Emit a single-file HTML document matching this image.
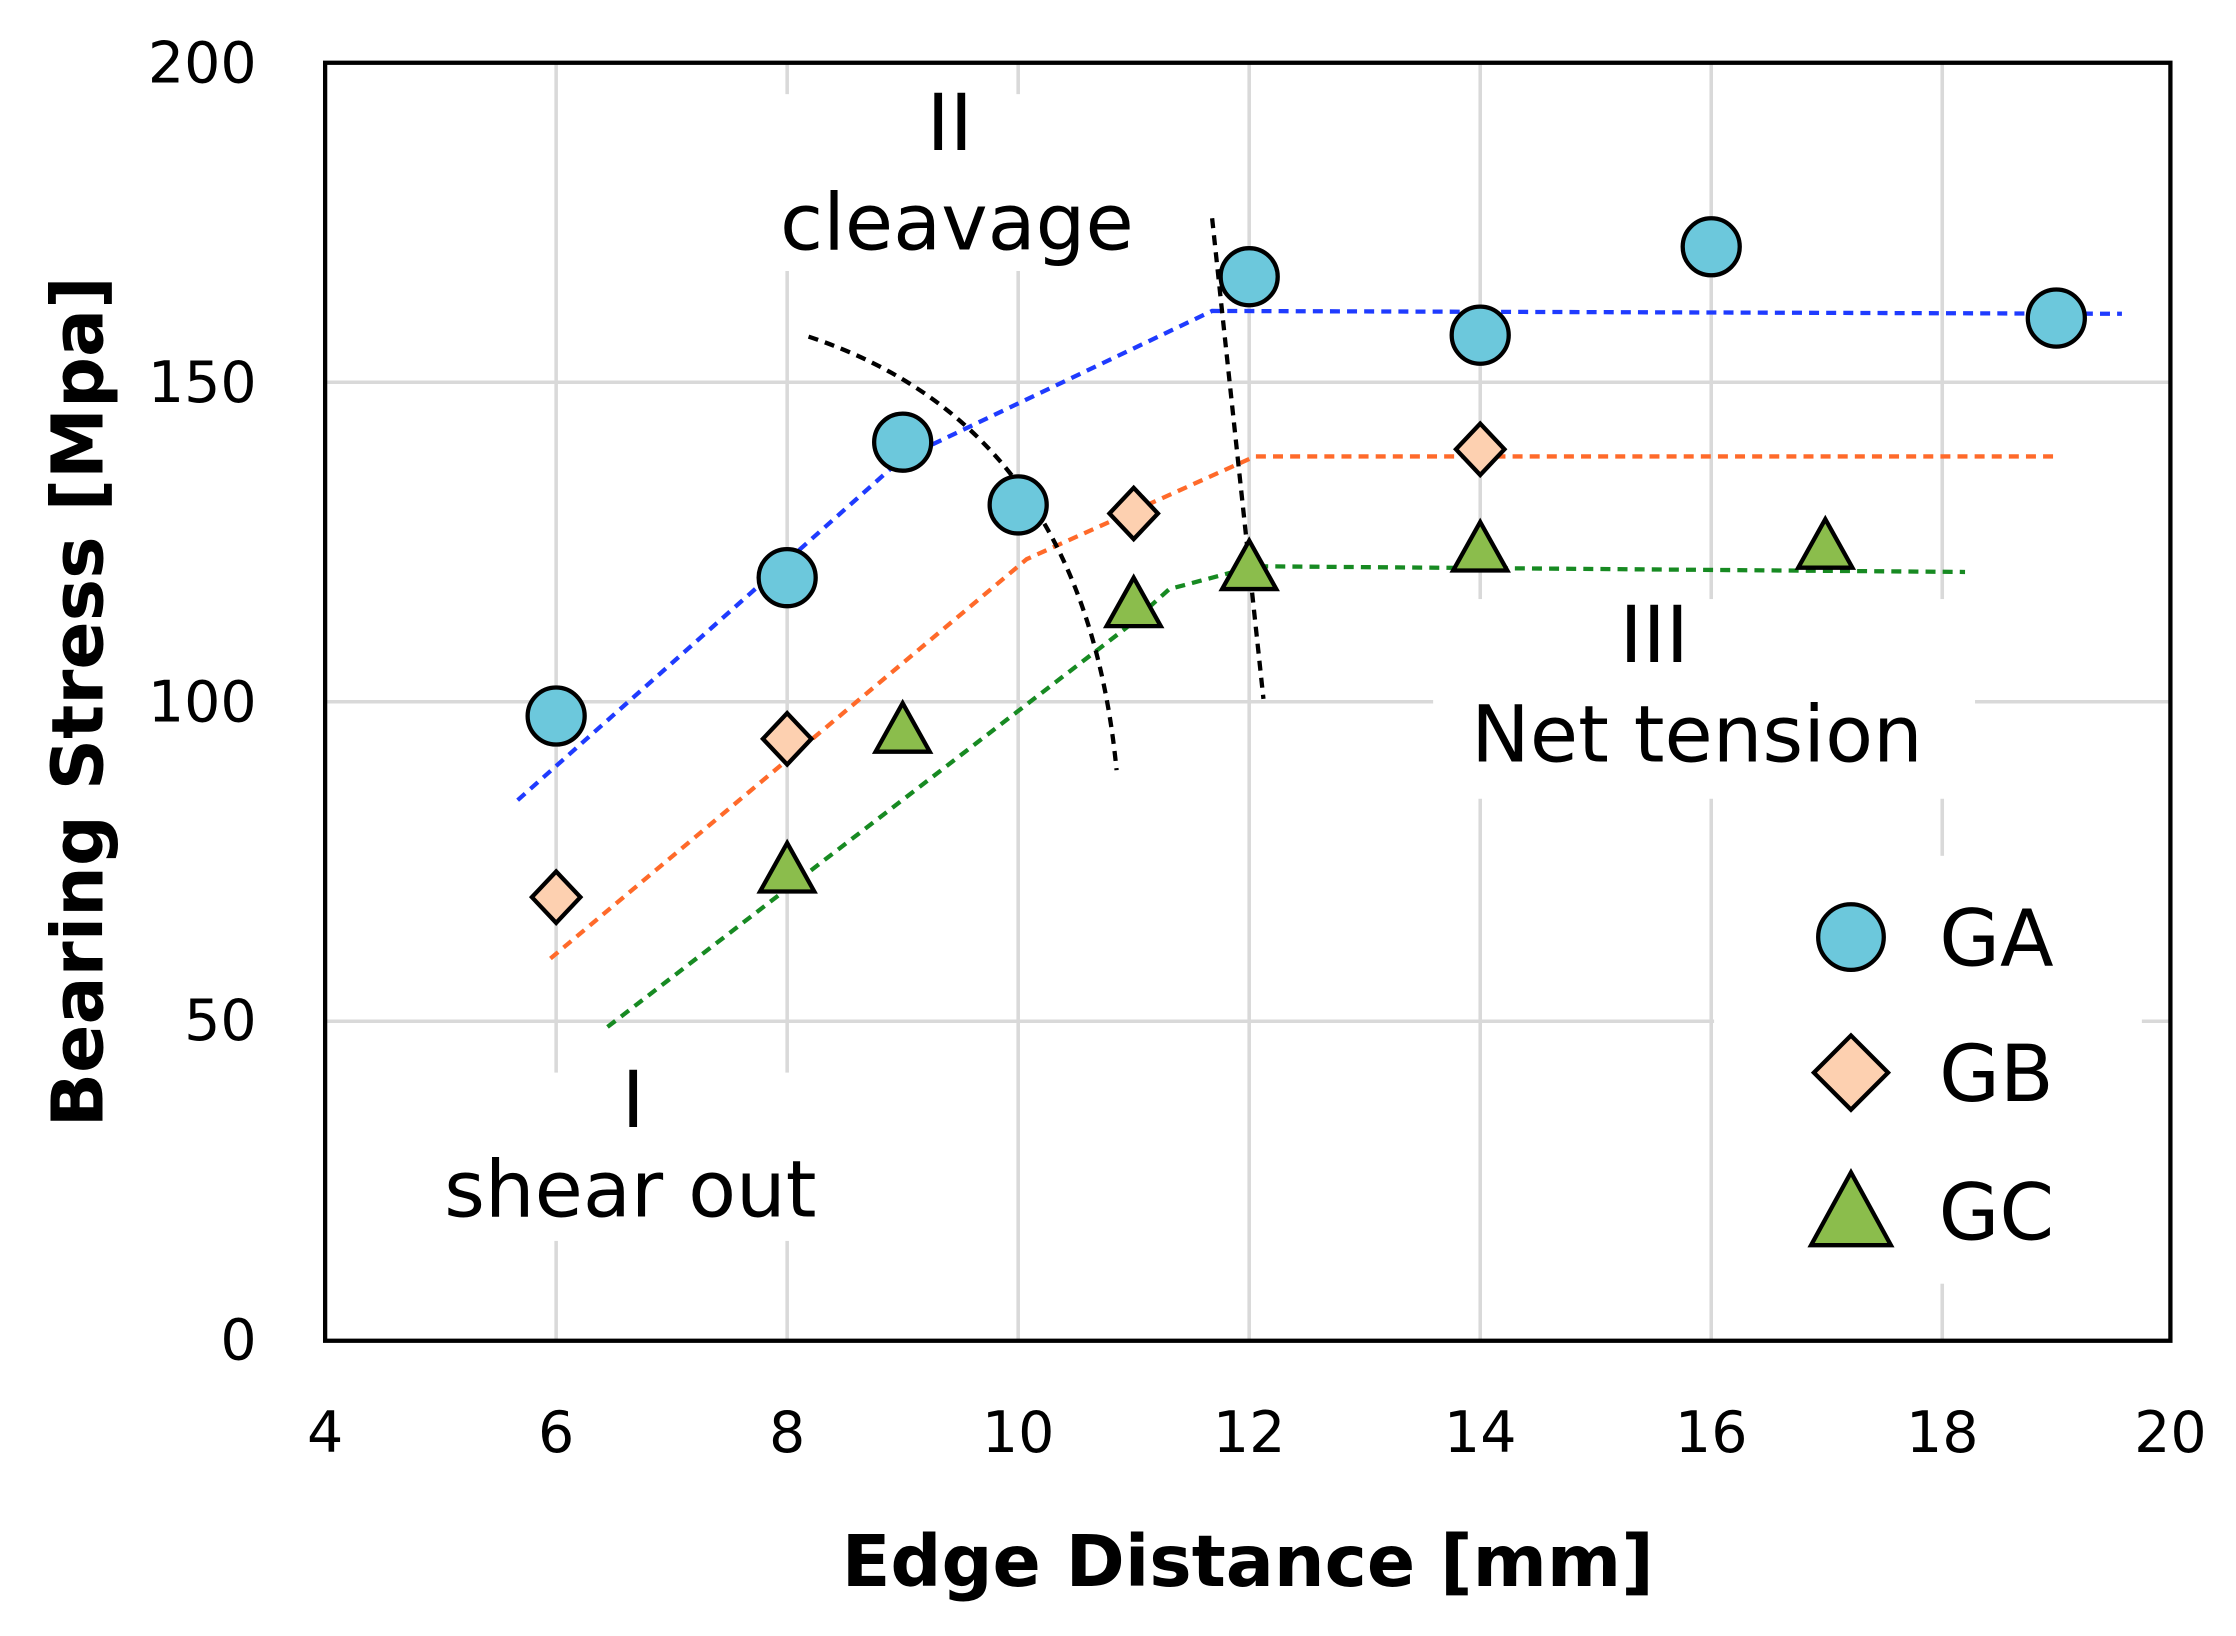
<!DOCTYPE html>
<html><head><meta charset="utf-8"><style>html,body{margin:0;padding:0;background:#fff}svg{display:block}</style></head>
<body>
<svg width="2236" height="1636" viewBox="0 0 1568 1147" preserveAspectRatio="none" xmlns="http://www.w3.org/2000/svg" font-family="'DejaVu Sans','Liberation Sans',sans-serif">
<rect width="1568" height="1147" fill="#fff"/>
<g stroke="#d9d9d9" stroke-width="2.5">
<line x1="390" y1="44" x2="390" y2="940"/><line x1="552" y1="44" x2="552" y2="940"/>
<line x1="714" y1="44" x2="714" y2="940"/><line x1="876" y1="44" x2="876" y2="940"/>
<line x1="1038" y1="44" x2="1038" y2="940"/><line x1="1200" y1="44" x2="1200" y2="940"/>
<line x1="1362" y1="44" x2="1362" y2="940"/>
<line x1="228" y1="268" x2="1522" y2="268"/><line x1="228" y1="492" x2="1522" y2="492"/>
<line x1="228" y1="716" x2="1522" y2="716"/>
</g>
<g fill="#fff">
<rect x="530" y="66" width="282" height="124"/>
<rect x="296" y="752" width="290" height="118"/>
<rect x="1005" y="420" width="380" height="140"/>
<rect x="1202" y="600" width="300" height="300"/>
</g>
<rect x="228" y="44" width="1294" height="896" fill="none" stroke="#000" stroke-width="3"/>
<g fill="none" stroke-width="3" stroke-dasharray="7,5">
<polyline stroke="#1f3bff" points="363,561 632,322 850,218 1488,220"/>
<polyline stroke="#ff6a2a" points="386,672 720,392 880,320 1440,320"/>
<polyline stroke="#178a22" points="426,720 790,440 820,413 880,397 1378,401"/>
<path stroke="#000" d="M567,236 Q760,300 783,540"/>
<line stroke="#000" x1="850" y1="153" x2="886" y2="490"/>
</g>
<g stroke="#000" stroke-width="3">
<g fill="#6cc8dc">
<circle cx="390" cy="502" r="20"/><circle cx="552" cy="405" r="20"/><circle cx="633" cy="310" r="20"/>
<circle cx="714" cy="354" r="20"/><circle cx="876" cy="194" r="20"/><circle cx="1038" cy="235" r="20"/>
<circle cx="1200" cy="173" r="20"/><circle cx="1442" cy="223" r="20"/>
<circle cx="1298" cy="657" r="23"/>
</g>
<g fill="#fdd0b0">
<polygon points="390,611 407,629 390,647 373,629"/><polygon points="552,500 569,518 552,536 535,518"/>
<polygon points="795,342 812,360 795,378 778,360"/><polygon points="1038,297 1055,315 1038,333 1021,315"/>
<polygon points="1298,726 1324,752 1298,778 1272,752"/>
</g>
<g fill="#8bbd4c">
<polygon points="552,591 571,625 533,625"/><polygon points="633,493 652,527 614,527"/>
<polygon points="795,405 814,439 776,439"/><polygon points="876,379 895,413 857,413"/>
<polygon points="1038,366 1057,400 1019,400"/><polygon points="1280,364 1299,398 1261,398"/>
<polygon points="1298,822 1326,873 1270,873"/>
</g>
</g>
<g font-size="40" fill="#000" text-anchor="end">
<text x="180" y="58">200</text><text x="180" y="282">150</text><text x="180" y="506">100</text>
<text x="180" y="729">50</text><text x="180" y="953">0</text>
</g>
<g font-size="40" fill="#000" text-anchor="middle">
<text x="228" y="1018">4</text><text x="390" y="1018">6</text><text x="552" y="1018">8</text>
<text x="714" y="1018">10</text><text x="876" y="1018">12</text><text x="1038" y="1018">14</text>
<text x="1200" y="1018">16</text><text x="1362" y="1018">18</text><text x="1522" y="1018">20</text>
</g>
<text x="875" y="1112" font-size="50" font-weight="bold" text-anchor="middle">Edge Distance [mm]</text>
<text transform="translate(72,492) rotate(-90)" font-size="50" font-weight="bold" text-anchor="middle">Bearing Stress [Mpa]</text>
<g font-size="55" fill="#000" text-anchor="middle">
<text x="666" y="105">II</text><text x="671" y="175">cleavage</text>
<text x="444" y="790">I</text><text x="442" y="853">shear out</text>
<text x="1160" y="464">III</text><text x="1190" y="534">Net tension</text>
<text x="1400" y="677">GA</text><text x="1400" y="772">GB</text><text x="1400" y="869">GC</text>
</g>
</svg>
</body></html>
